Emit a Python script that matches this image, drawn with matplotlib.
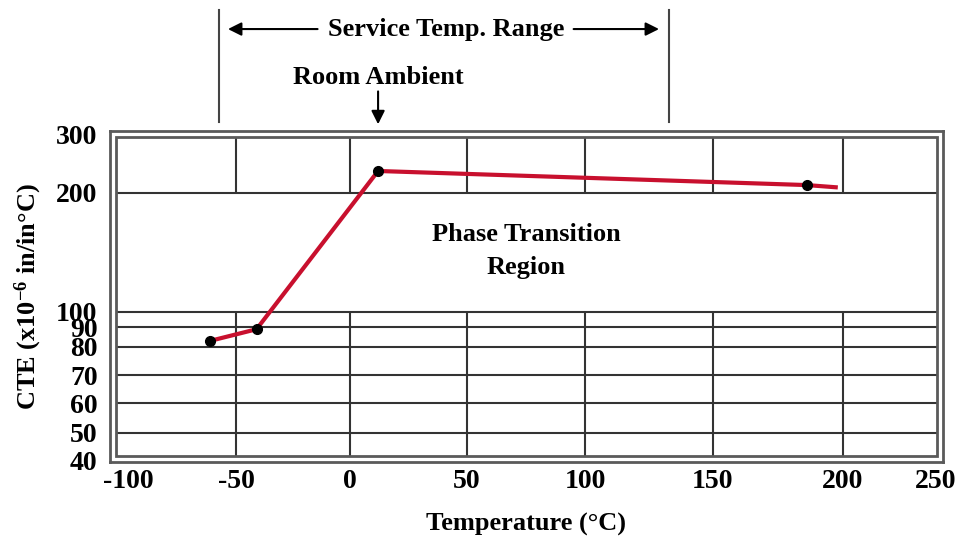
import matplotlib
matplotlib.use("Agg")
import matplotlib.pyplot as plt
import numpy as np
from matplotlib.patches import Rectangle

plt.rcParams['font.family'] = ['Liberation Serif', 'DejaVu Serif']
plt.rcParams['font.weight'] = 'bold'
plt.rcParams['axes.labelweight'] = 'bold'
plt.rcParams['mathtext.fontset'] = 'custom'
plt.rcParams['mathtext.rm'] = 'Liberation Serif:bold'
plt.rcParams['mathtext.it'] = 'Liberation Serif:bold'
plt.rcParams['mathtext.bf'] = 'Liberation Serif:bold'

# values
temp = [-62, -41, 12, 186, 198]
cte = [83, 89, 237, 213, 209]
n_dots = 4  # the end of the line has no dot

x_ticks = [-100, -50, 0, 50, 100, 150, 200, 250]
y_ticks = [40, 50, 60, 70, 80, 90, 100, 200, 300]
x_grid = [-50, 0, 50, 100, 150, 200]
y_grid = [50, 60, 70, 80, 90, 100, 200]

service_lo, service_hi = -58, 133
room_ambient = 12

# the original axes are hand spaced, so map them piecewise
x_knots = [-200, -100, -50, 0, 50, 100, 150, 200, 250, 350]
x_px = [-88, 128, 236, 350, 467, 585, 713, 843, 936, 1120]
y_knots = [0, 40, 50, 60, 70, 80, 90, 100, 200, 300, 400]
y_px = [-574, -461, -432.7, -403.3, -375, -346.7, -327.3, -311.7, -192.7, -134, -75]

def fx(v):
    return np.interp(v, x_knots, x_px)

def ifx(p):
    return np.interp(p, x_px, x_knots)

def fy(v):
    return np.interp(v, y_knots, y_px)

def ify(p):
    return np.interp(p, y_px, y_knots)

W, H = 964, 545
fig = plt.figure(figsize=(W / 100, H / 100), dpi=100)
left, right, top, bottom = 110, 943, 131, 462
ax = fig.add_axes([left / W, (H - bottom) / H, (right - left) / W, (bottom - top) / H])
ax.set_xscale('function', functions=(fx, ifx))
ax.set_yscale('function', functions=(fy, ify))
x0, x1 = float(ifx(left)), float(ifx(right))
y0, y1 = float(ify(-bottom)), float(ify(-top))
ax.set_xlim(x0, x1)
ax.set_ylim(y0, y1)

frame_col = '#5a5a5a'
for s in ax.spines.values():
    s.set_color(frame_col)
    s.set_linewidth(2)

dx = 6 / (right - left)
dy = 6 / (bottom - top)
inner = Rectangle((dx, dy), 1 - 2 * dx, 1 - 2 * dy, transform=ax.transAxes,
                  fill=False, ec=frame_col, lw=2, zorder=5)
ax.add_patch(inner)

grid_col = '#333333'
hl = ax.hlines(y_grid, x0, x1, colors=grid_col, lw=1.5, zorder=1)
vl1 = ax.vlines(x_grid, y0, 100, colors=grid_col, lw=1.5, zorder=1)
vl2 = ax.vlines(x_grid, 200, y1, colors=grid_col, lw=1.5, zorder=1)
for c in (hl, vl1, vl2):
    c.set_clip_path(inner)

ax.plot(temp, cte, color='#c8102e', lw=3, zorder=3, solid_capstyle='butt')
ax.plot(temp[:n_dots], cte[:n_dots], 'o', color='black', ms=7, zorder=4)

ax.set_xticks(x_ticks)
ax.set_xticklabels([str(t) for t in x_ticks])
ax.set_yticks(y_ticks)
ax.set_yticklabels([str(t) for t in y_ticks])
ax.minorticks_off()
ax.tick_params(axis='x', length=0, labelsize=20, pad=5)
ax.tick_params(axis='y', length=0, labelsize=20, pad=9)

ax.set_xlabel('Temperature (°C)', fontsize=19, labelpad=14)
ax.set_ylabel('CTE (x10$^{-6}$ in/in°C)', fontsize=19, labelpad=9)

ax.text(75, 151, 'Phase Transition\nRegion', ha='center', va='center',
        fontsize=19, linespacing=1.55, zorder=6)

# annotations above the frame
tr = ax.get_xaxis_transform()
for xv in (service_lo, service_hi):
    ax.plot([xv, xv], [1.027, 1.366], transform=tr, clip_on=False,
            color='#444444', lw=1.5)
ax.text(41, 1.308, 'Service Temp. Range', transform=tr, ha='center',
        va='center', fontsize=19)
arrow = dict(arrowstyle='-|>', color='black', lw=1.5, mutation_scale=20)
ax.annotate('', xy=(-55, 1.308), xytext=(-13, 1.308), xycoords=tr,
            textcoords=tr, arrowprops=arrow, annotation_clip=False)
ax.annotate('', xy=(130, 1.308), xytext=(94, 1.308), xycoords=tr,
            textcoords=tr, arrowprops=arrow, annotation_clip=False)
ax.text(room_ambient, 1.163, 'Room Ambient', transform=tr, ha='center',
        va='center', fontsize=19)
ax.annotate('', xy=(room_ambient, 1.012), xytext=(room_ambient, 1.128),
            xycoords=tr, textcoords=tr, arrowprops=arrow, annotation_clip=False)

fig.savefig('out.png', dpi=100)
